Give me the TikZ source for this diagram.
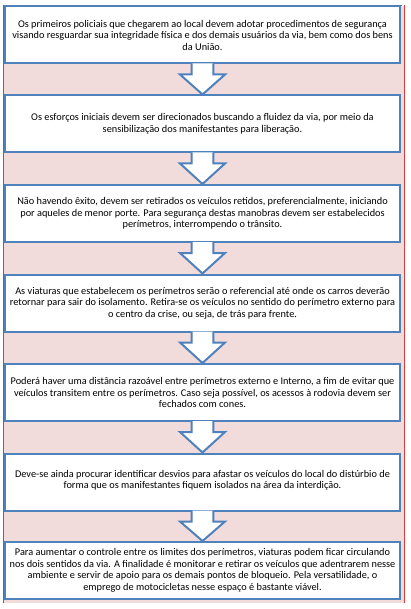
\documentclass[tikz,border=0pt]{standalone}
\usepackage{fontspec}
\setmainfont{Carlito}
\usetikzlibrary{calc}
\definecolor{boxblue}{HTML}{4F81BD}
\definecolor{bgpink}{HTML}{F2DCDB}
\definecolor{framered}{HTML}{DD3B3B}
\tikzset{
  stepbox/.style={draw=boxblue, line width=2pt, fill=white, minimum width=395pt,
    minimum height=57pt, align=center, inner sep=3pt,
    font=\fontsize{10.3pt}{11.5pt}\selectfont},
  blockarrow/.style={fill=white, draw=boxblue, line width=2pt, line join=miter}
}
\newcommand{\blockarr}[2]{%
  \path[blockarrow]
    ($(#1.south)+(-10.8,-1)$) -- ($(#1.south)+(-10.8,10)$) -- ($(#1.south)+(-22.5,10)$)
    -- (#2.north)
    -- ($(#1.south)+(22.5,10)$) -- ($(#1.south)+(10.8,10)$) -- ($(#1.south)+(10.8,-1)$);}
\begin{document}
\begin{tikzpicture}[x=1pt,y=-1pt]
\useasboundingbox (0,0) rectangle (410,609);
\fill[bgpink] (3,6) rectangle (404,603);
\draw[framered, line width=1pt] (3,6) -- (3,603) (404,6) -- (404,603);
\draw[framered, line width=1pt, dash pattern=on 3pt off 1.5pt] (3,6) -- (404,6);

\node[stepbox] (b1) at (202.5,35) {Os primeiros policiais que chegarem ao local devem adotar procedimentos de segurança\\visando resguardar sua integridade física e dos demais usuários da via, bem como dos bens\\da União.};
\node[stepbox] (b2) at (202.5,124) {Os esforços iniciais devem ser direcionados buscando a fluidez da via, por meio da\\sensibilização dos manifestantes para liberação.};
\node[stepbox] (b3) at (202.5,213.5) {Não havendo êxito, devem ser retirados os veículos retidos, preferencialmente, iniciando\\por aqueles de menor porte. Para segurança destas manobras devem ser estabelecidos\\perímetros, interrompendo o trânsito.};
\node[stepbox] (b4) at (202.5,303) {As viaturas que estabelecem os perímetros serão o referencial até onde os carros deverão\\retornar para sair do isolamento. Retira-se os veículos no sentido do perímetro externo para\\o centro da crise, ou seja, de trás para frente.};
\node[stepbox] (b5) at (202.5,392.5) {Poderá haver uma distância razoável entre perímetros externo e Interno, a fim de evitar que\\veículos transitem entre os perímetros. Caso seja possível, os acessos à rodovia devem ser\\fechados com cones.};
\node[stepbox] (b6) at (202.5,482) {Deve-se ainda procurar identificar desvios para afastar os veículos do local do distúrbio de\\forma que os manifestantes fiquem isolados na área da interdição.\rule[-5pt]{0pt}{0pt}};
\node[stepbox] (b7) at (202.5,570.5) {Para aumentar o controle entre os limites dos perímetros, viaturas podem ficar circulando\\nos dois sentidos da via. A finalidade é monitorar e retirar os veículos que adentrarem nesse\\ambiente e servir de apoio para os demais pontos de bloqueio. Pela versatilidade, o\\emprego de motocicletas nesse espaço é bastante viável.};

\blockarr{b1}{b2}
\blockarr{b2}{b3}
\blockarr{b3}{b4}
\blockarr{b4}{b5}
\blockarr{b5}{b6}
\blockarr{b6}{b7}
\end{tikzpicture}
\end{document}
